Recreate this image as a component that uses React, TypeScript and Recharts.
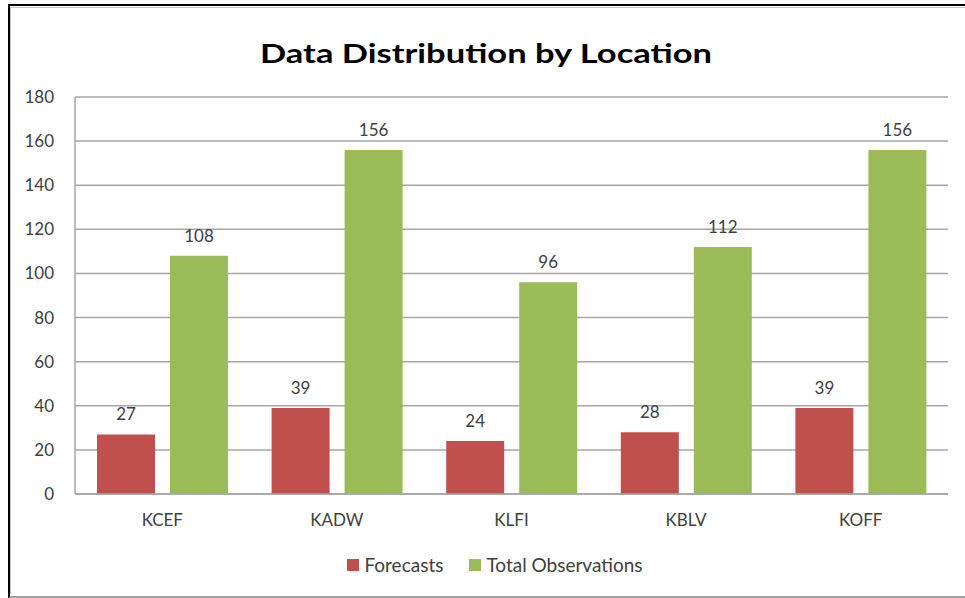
import React from 'react';
import { BarChart, Bar, XAxis, YAxis, CartesianGrid, Legend, LabelList } from 'recharts';

const categories = ['KCEF', 'KADW', 'KLFI', 'KBLV', 'KOFF'];
const forecasts = [27, 39, 24, 28, 39];
const totalObservations = [108, 156, 96, 112, 156];
const yTicks = [0, 20, 40, 60, 80, 100, 120, 140, 160, 180];

const data = categories.map((name, i) => ({
  name,
  forecasts: forecasts[i],
  total: totalObservations[i],
}));

const FONT = 'Lato, "Open Sans", sans-serif';
const TEXT = '#404040';

const renderLegend = (props: any) => {
  const { payload } = props;
  return (
    <div style={{ display: 'flex', justifyContent: 'center', fontFamily: FONT, fontSize: 19, lineHeight: '22px', color: TEXT }}>
      {payload.map((p: any, i: number) => (
        <div key={i} style={{ display: 'flex', alignItems: 'center', marginRight: i === 0 ? 26 : 0 }}>
          <div style={{ width: 12, height: 12, background: p.color, marginRight: 5 }} />
          <span>{p.value}</span>
        </div>
      ))}
    </div>
  );
};

export default function App() {
  return (
    <div style={{ position: 'absolute', left: 0, top: 0, width: 965, height: 598, background: '#fff', overflow: 'hidden' }}>
      <div style={{ position: 'absolute', left: 8, top: 4, width: 970, height: 590, borderLeft: '2px solid #000', borderTop: '2px solid #000', borderBottom: '3px solid #a0a0a0' }} />
      <div style={{ position: 'absolute', left: 10, top: 7, width: 970, height: 586, borderLeft: '1px solid #c8c8c8', borderTop: '1px solid #c8c8c8' }} />
      <svg style={{ position: 'absolute', left: 0, top: 0 }} width={965} height={80}>
        <text
          x={486}
          y={63}
          textAnchor="middle"
          textLength={452}
          lengthAdjust="spacingAndGlyphs"
          style={{ fontFamily: FONT, fontWeight: 700, fontSize: 26, fill: '#000' }}
        >
          Data Distribution by Location
        </text>
      </svg>
      <div style={{ position: 'absolute', left: 0, top: 0 }}>
        <BarChart
          width={965}
          height={598}
          data={data}
          margin={{ top: 97, right: 17, left: 15, bottom: 0 }}
          barGap={15}
          barSize={58}
        >
          <CartesianGrid vertical={false} stroke="#a6a6a6" strokeWidth={1.5} />
          <XAxis
            dataKey="name"
            axisLine={{ stroke: '#a6a6a6', strokeWidth: 1.5 }}
            tickLine={false}
            tickSize={0}
            tickMargin={20}
            height={82}
            tick={{ fill: TEXT, fontSize: 17, fontFamily: FONT }}
          />
          <YAxis
            domain={[0, 180]}
            ticks={yTicks}
            axisLine={{ stroke: '#a6a6a6', strokeWidth: 1.5 }}
            tickLine={false}
            tickSize={0}
            tickMargin={21}
            width={60}
            interval={0}
            tick={{ fill: TEXT, fontSize: 17, fontFamily: FONT }}
          />
          <Legend
            content={renderLegend}
            wrapperStyle={{ position: 'absolute', top: 554, left: 0, width: 990, height: 22 }}
          />
          <Bar dataKey="forecasts" name="Forecasts" fill="#C0504D" isAnimationActive={false}>
            <LabelList dataKey="forecasts" position="top" offset={14} style={{ fill: TEXT, fontSize: 17, fontFamily: FONT }} />
          </Bar>
          <Bar dataKey="total" name="Total Observations" fill="#9BBB59" isAnimationActive={false}>
            <LabelList dataKey="total" position="top" offset={14} style={{ fill: TEXT, fontSize: 17, fontFamily: FONT }} />
          </Bar>
        </BarChart>
      </div>
    </div>
  );
}
